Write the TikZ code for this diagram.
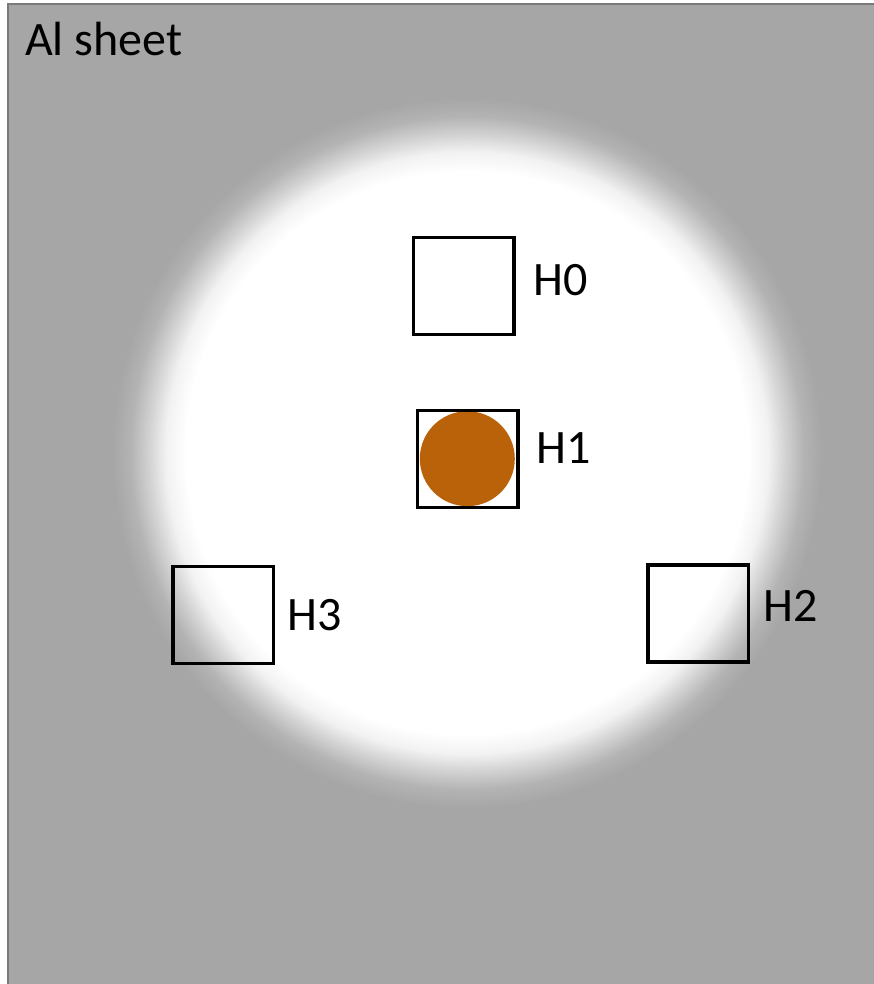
\documentclass[tikz,border=0pt]{standalone}
\usepackage{fontspec}
\setmainfont{Carlito}
\usepackage{tikz}
\pgfdeclarelayer{sheetlayer}
\pgfdeclarelayer{nodelayer}
\pgfsetlayers{sheetlayer,main,nodelayer}
\definecolor{sheetgray}{RGB}{166,166,166}
\definecolor{framegray}{RGB}{122,122,122}
\definecolor{samplebrown}{RGB}{185,98,10}
\colorlet{glowa}{sheetgray!15!white}
\colorlet{glowb}{sheetgray!50!white}
\colorlet{glowc}{sheetgray!85!white}
\pgfdeclareradialshading{glow}{\pgfpoint{0bp}{0bp}}{color(0bp)=(white); color(19.8bp)=(white); color(21.2bp)=(glowa); color(22.4bp)=(glowb); color(23.7bp)=(glowc); color(25bp)=(sheetgray); color(50bp)=(sheetgray)}
\tikzstyle{sheet}=[draw=framegray, fill=sheetgray, line width=2.5pt]
\tikzstyle{hole}=[rectangle, draw=black, line width=3.5pt, minimum width=100.5pt, minimum height=97pt, inner sep=0pt]
\tikzstyle{sample}=[circle, fill=samplebrown, minimum size=95pt, inner sep=0pt]
\tikzstyle{holelabel}=[anchor=west, inner sep=0pt, font=\fontsize{48}{54}\selectfont]
\tikzstyle{sheetlabel}=[anchor=base west, inner sep=0pt, font=\fontsize{48}{54}\selectfont]

\begin{document}
\begin{tikzpicture}[x=1pt, y=-1pt]
				\useasboundingbox (0,0) rectangle (874,984);
				\begin{pgfonlayer}{sheetlayer}
					\draw [style=sheet] (8,4) rectangle (884,994);
					\shade [shading=glow] (467,453) circle (355pt);
				\end{pgfonlayer}
				\begin{pgfonlayer}{nodelayer}
					\node [style=sheetlabel] (al) at (25,56) {Al sheet};
					\node [style=sample] (s1) at (467.3,458.7) {};
					\node [style=hole] (h0) at (463.8,286.2) {};
					\node [style=hole] (h1) at (467.8,459.2) {};
					\node [style=hole] (h2) at (698.3,613.3) {};
					\node [style=hole] (h3) at (223.2,614.8) {};
					\node [style=holelabel] (l0) at (533,280) {H0};
					\node [style=holelabel] (l1) at (536,448) {H1};
					\node [style=holelabel] (l2) at (763,606) {H2};
					\node [style=holelabel] (l3) at (287,615) {H3};
				\end{pgfonlayer}
			\end{tikzpicture}
\end{document}
